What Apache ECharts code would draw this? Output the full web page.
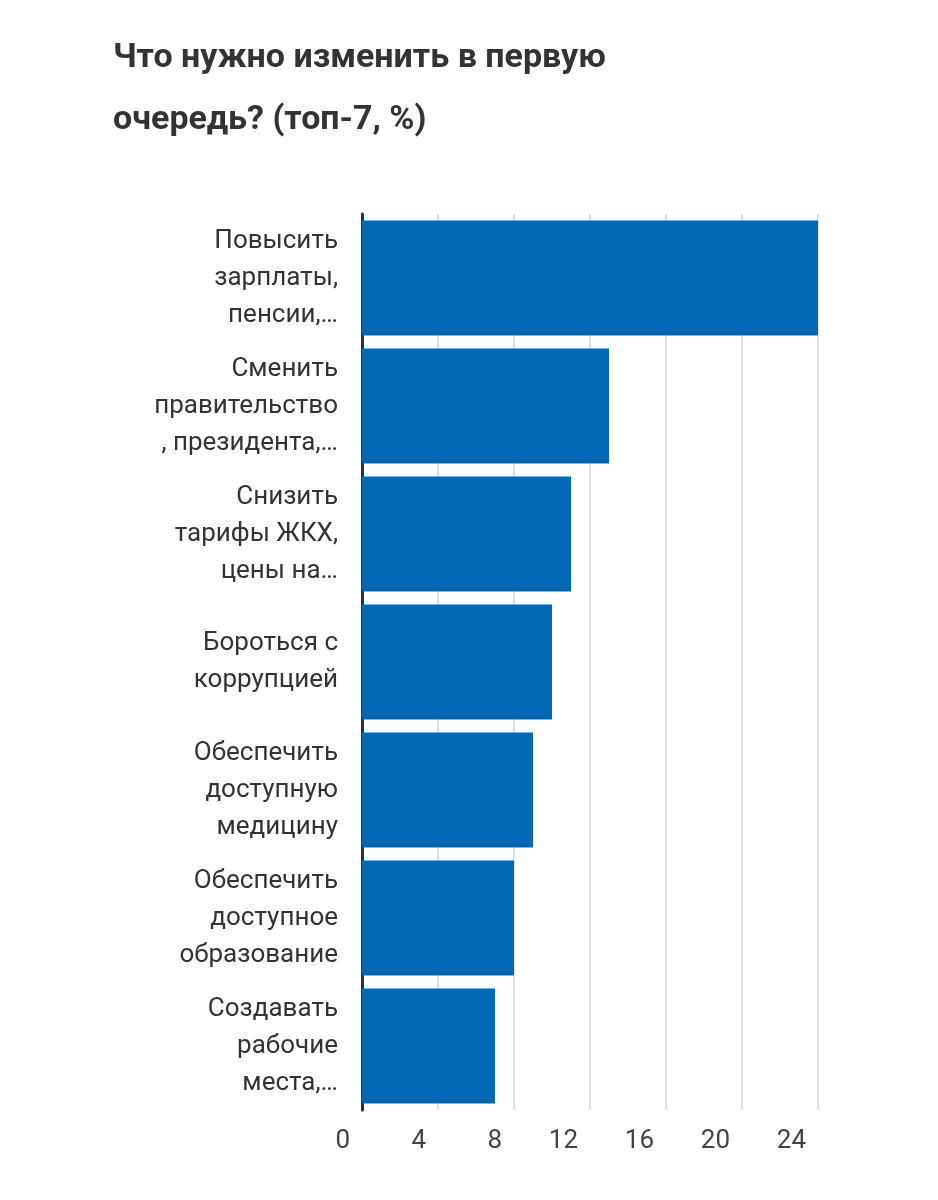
<!DOCTYPE html>
<html><head><meta charset="utf-8">
<script src="https://cdn.jsdelivr.net/npm/echarts@6/dist/echarts.min.js"></script>
<style>html,body{margin:0;background:#fff}#c{width:938px;height:1200px}</style>
</head><body><div id="c"></div>
<script>
const categories = [
  "Повысить\nзарплаты,\nпенсии,…",
  "Сменить\nправительство\n, президента,…",
  "Снизить\nтарифы ЖКХ,\nцены на…",
  "Бороться с\nкоррупцией",
  "Обеспечить\nдоступную\nмедицину",
  "Обеспечить\nдоступное\nобразование",
  "Создавать\nрабочие\nместа,…"
];
const values = [24, 13, 11, 10, 9, 8, 7];
const title = "Что нужно изменить в первую\nочередь? (топ-7, %)";

const chart = echarts.init(document.getElementById('c'));
chart.setOption({
  animation: false,
  textStyle: {fontFamily: 'Roboto'},
  title: {text: title, left: 108, top: 22,
    textStyle: {fontSize: 34, fontWeight: 'bold', color: '#333', lineHeight: 62, fontFamily: 'Roboto'}},
  grid: {left: 362, right: 120, top: 214, bottom: 90, containLabel: false},
  xAxis: {type: 'value', min: 0, max: 24, interval: 4,
    axisLine: {show: false}, axisTick: {show: false},
    splitLine: {lineStyle: {color: '#e0e0e0', width: 2}},
    axisLabel: {color: '#444', fontSize: 26, margin: 18, align: 'right', padding: [0, 12, 0, 0]}},
  yAxis: {type: 'category', data: categories, inverse: true,
    axisLine: {lineStyle: {color: '#333', width: 3}},
    axisTick: {show: false},
    axisLabel: {color: '#333', fontSize: 26, lineHeight: 37, margin: 24, align: 'right'}},
  series: [{type: 'bar', data: values, barCategoryGap: '10%',
    itemStyle: {color: '#0068b5'}}]
});
</script></body></html>
